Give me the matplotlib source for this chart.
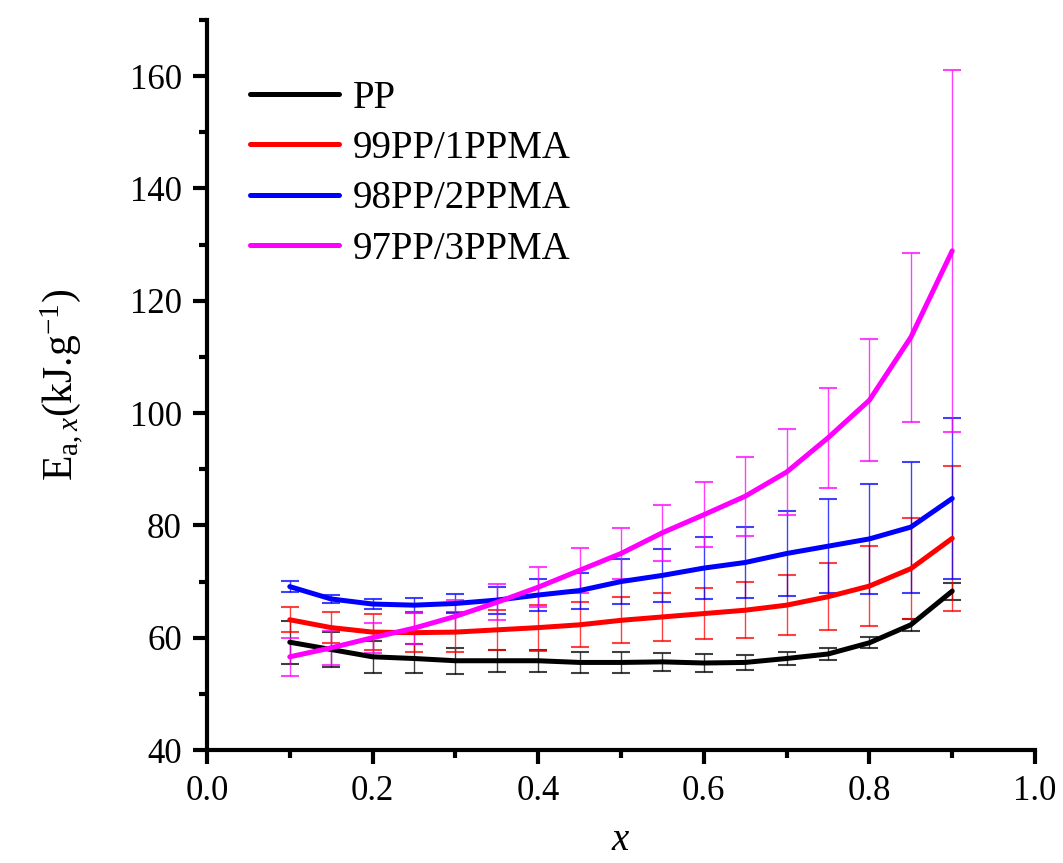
import numpy as np
import matplotlib
matplotlib.use("Agg")
import matplotlib.pyplot as plt
from matplotlib.ticker import MultipleLocator

plt.rcParams["font.family"] = ["Liberation Serif", "DejaVu Serif"]
plt.rcParams["mathtext.fontset"] = "custom"
plt.rcParams["mathtext.rm"] = "Liberation Serif"
plt.rcParams["mathtext.it"] = "Liberation Serif:italic"

# conversion x
x = [0.10, 0.15, 0.20, 0.25, 0.30, 0.35, 0.40, 0.45, 0.50,
     0.55, 0.60, 0.65, 0.70, 0.75, 0.80, 0.85, 0.90]

# activation energy (kJ/g) and error
pp = [59.2, 57.9, 56.6, 56.3, 55.9, 55.9, 55.9, 55.6, 55.6,
      55.7, 55.5, 55.6, 56.3, 57.1, 59.1, 62.3, 68.3]
pp_err = [3.8, 3.2, 2.8, 2.6, 2.3, 2.0, 2.0, 1.9, 1.85,
          1.65, 1.55, 1.35, 1.1, 1.05, 1.0, 1.05, 1.5]

pp1 = [63.2, 61.8, 61.0, 60.9, 61.0, 61.4, 61.8, 62.3, 63.1,
       63.7, 64.3, 64.9, 65.8, 67.3, 69.2, 72.3, 77.7]
pp1_err = [2.2, 2.7, 3.2, 3.5, 3.6, 3.5, 4.1, 4.0, 4.1,
           4.35, 4.6, 5.0, 5.4, 6.0, 7.1, 9.0, 12.9]

pp2 = [69.1, 66.9, 66.0, 65.8, 66.1, 66.7, 67.6, 68.4, 70.0,
       71.1, 72.4, 73.4, 75.0, 76.3, 77.6, 79.7, 84.8]
pp2_err = [1.0, 0.75, 0.85, 1.25, 1.7, 2.4, 2.8, 3.2, 4.05,
           4.75, 5.5, 6.4, 7.5, 8.4, 9.8, 11.65, 14.3]

pp3 = [56.6, 58.2, 60.0, 61.7, 63.8, 66.3, 69.0, 72.0, 75.0,
       78.7, 81.9, 85.2, 89.5, 95.6, 102.3, 113.5, 128.9]
pp3_err = [3.4, 3.0, 2.7, 2.85, 3.0, 3.2, 3.6, 3.95, 4.5,
           5.0, 5.8, 7.0, 7.6, 8.9, 10.85, 15.0, 32.2]

labels = ["PP", "99PP/1PPMA", "98PP/2PPMA", "97PP/3PPMA"]
colors = ["#000000", "#ff0000", "#0000ff", "#ff00ff"]

fig = plt.figure(figsize=(10.63, 8.63), dpi=100)
ax = fig.add_axes([0.1947, 0.1309, 0.779, 0.8459])

for y, err, lab, c in zip([pp, pp1, pp2, pp3], [pp_err, pp1_err, pp2_err, pp3_err],
                          labels, colors):
    ax.errorbar(x, y, yerr=err, fmt="none", ecolor=c, elinewidth=1.0,
                capsize=6.5, capthick=1.5, alpha=0.75, zorder=2)
    ax.plot(x, y, color=c, lw=3.6, label=lab, zorder=3, solid_capstyle="round")

ax.set_xlim(0, 1.0)
ax.set_ylim(40, 170)
ax.xaxis.set_major_locator(MultipleLocator(0.2))
ax.xaxis.set_minor_locator(MultipleLocator(0.1))
ax.yaxis.set_minor_locator(MultipleLocator(10))
ax.set_yticks([40, 60, 80, 100, 120, 140, 160])
ax.xaxis.set_major_formatter(plt.FormatStrFormatter("%.1f"))

for s in ("top", "right"):
    ax.spines[s].set_visible(False)
for s in ("left", "bottom"):
    ax.spines[s].set_linewidth(3)
ax.tick_params(which="major", direction="out", length=10, width=3,
               labelsize=25, pad=8)
ax.tick_params(which="minor", direction="out", length=6, width=3)

ax.set_xlabel(r"$x$", fontsize=28, labelpad=10)
ax.set_ylabel(r"E$_{\mathrm{a},x}$(kJ.g$^{-1}$)", fontsize=30, labelpad=32)

ax.legend(loc="upper left", bbox_to_anchor=(0.052, 0.918), frameon=False,
          borderpad=0, borderaxespad=0, fontsize=28, handlelength=2.3,
          handletextpad=0.35, labelspacing=0.34)

fig.savefig("out.png", dpi=100)
